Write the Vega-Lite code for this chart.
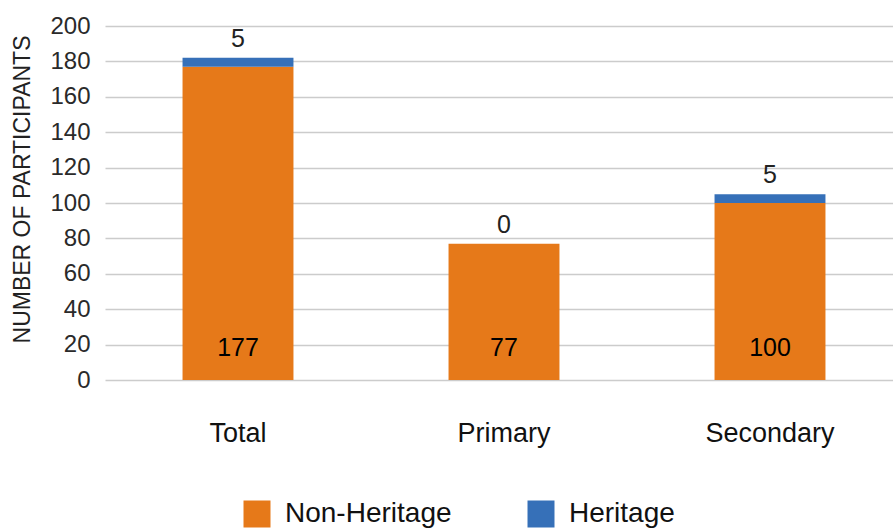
{
  "$schema": "https://vega.github.io/schema/vega-lite/v6.json",
  "autosize": "none",
  "width": 798,
  "height": 354,
  "padding": {"left": 105, "top": 26, "right": 0, "bottom": 151},
  "background": "white",
  "config": {
    "font": "Liberation Sans",
    "view": {"stroke": null},
    "axisY": {"tickCount": 10, "labelOverlap": false}
  },
  "data": {
    "values": [
      {"cat": "Total", "group": "Non-Heritage", "value": 177, "ord": 1},
      {"cat": "Total", "group": "Heritage", "value": 5, "ord": 2},
      {"cat": "Primary", "group": "Non-Heritage", "value": 77, "ord": 1},
      {"cat": "Primary", "group": "Heritage", "value": 0, "ord": 2},
      {"cat": "Secondary", "group": "Non-Heritage", "value": 100, "ord": 1},
      {"cat": "Secondary", "group": "Heritage", "value": 5, "ord": 2}
    ]
  },
  "transform": [
    {"joinaggregate": [{"op": "sum", "field": "value", "as": "total"}], "groupby": ["cat"]}
  ],
  "encoding": {
    "x": {
      "field": "cat", "type": "nominal", "sort": ["Total", "Primary", "Secondary"],
      "scale": {"paddingInner": 0.583, "paddingOuter": 0.2915},
      "axis": {"title": null, "labelAngle": 0, "labelFontSize": 27, "labelColor": "#111111", "labelPadding": 40, "ticks": false, "domain": false}
    }
  },
  "layer": [
    {
      "mark": {"type": "bar"},
      "encoding": {
        "y": {
          "field": "value", "type": "quantitative", "stack": "zero",
          "scale": {"domain": [0, 200], "nice": false},
          "axis": {
            "title": "NUMBER OF PARTICIPANTS", "titleFontSize": 23, "titleFontWeight": "normal", "titleColor": "#222222",
            "titleX": -83, "titleY": 163, "titleAngle": -90, "titleAlign": "center", "titleBaseline": "middle",
            "tickCount": 10,
            "labelOverlap": false,
            "labelFontSize": 24, "labelColor": "#2a2a2a", "labelPadding": 15,
            "ticks": false, "domain": false,
            "gridColor": "#cccccc", "gridWidth": 1.5
          }
        },
        "color": {
          "field": "group", "type": "nominal",
          "scale": {"domain": ["Non-Heritage", "Heritage"], "range": ["#E67919", "#3670B8"]},
          "legend": {
            "title": null, "orient": "none", "direction": "horizontal",
            "legendX": 138, "legendY": 474,
            "symbolType": "square", "symbolSize": 729, "symbolStrokeWidth": 0,
            "labelFontSize": 28, "labelColor": "#111111", "labelOffset": 14, "labelLimit": 400,
            "columnPadding": 75, "padding": 0
          }
        },
        "order": {"field": "ord", "type": "quantitative"}
      }
    },
    {
      "transform": [{"filter": "datum.group == 'Non-Heritage'"}],
      "mark": {"type": "text", "fontSize": 25, "color": "#000000", "baseline": "middle"},
      "encoding": {
        "y": {"datum": 18, "type": "quantitative"},
        "text": {"field": "value", "type": "quantitative"}
      }
    },
    {
      "transform": [{"filter": "datum.group == 'Heritage'"}],
      "mark": {"type": "text", "fontSize": 25, "color": "#222222", "baseline": "middle", "dy": -19},
      "encoding": {
        "y": {"field": "total", "type": "quantitative"},
        "text": {"field": "value", "type": "quantitative"}
      }
    }
  ]
}
